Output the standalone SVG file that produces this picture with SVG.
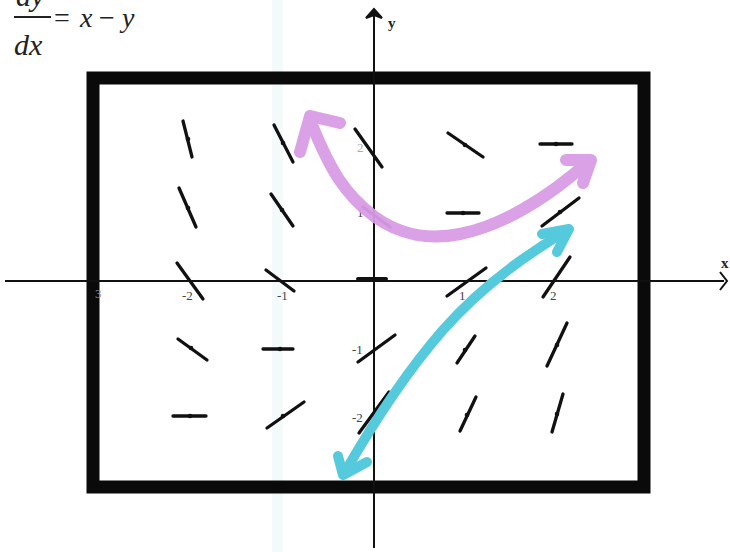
<svg xmlns="http://www.w3.org/2000/svg" width="730" height="552" viewBox="0 0 730 552">
<style>
.seg{stroke:#111;stroke-width:3.3;stroke-linecap:round;fill:none}
.dot{fill:#111}
.axis{stroke:#111;stroke-width:2;fill:none}
.lbl{font-family:"Liberation Serif",serif;font-size:13px;fill:#444}
.eq{font-family:"Liberation Serif",serif;font-style:italic;font-size:30px;fill:#222}
.eq2{font-family:"Liberation Serif",serif;font-style:italic;font-size:28px;fill:#222}
.pink{stroke:#d99ce6;stroke-width:12;fill:none;stroke-linecap:round;stroke-linejoin:round}
.cyan{stroke:#55cadc;stroke-width:10;fill:none;stroke-linecap:round;stroke-linejoin:round}
</style>
<rect width="730" height="552" fill="#fff"/>
<rect x="272" y="0" width="11" height="552" fill="#f4f9fa"/>
<g id="equation">
<text class="eq" x="16" y="6">dy</text>
<line x1="14" y1="17" x2="51" y2="17" stroke="#222" stroke-width="2"/>
<text class="eq" x="14" y="55">dx</text>
<text class="eq2" x="54" y="27" style="font-style:normal">=</text>
<text class="eq2" x="80" y="27">x</text>
<text class="eq2" x="99" y="27" style="font-style:normal">−</text>
<text class="eq2" x="122" y="27">y</text>
</g>
<g id="frame">
<rect x="93" y="78" width="551" height="409" fill="none" stroke="#0a0a0a" stroke-width="13"/>
</g>
<g id="axes">
<line class="axis" x1="374" y1="14" x2="374" y2="548"/>
<polygon points="374,9 366,18 374,15 382,18" fill="#111" stroke="#111" stroke-width="2"/>
<line class="axis" x1="5" y1="281" x2="724" y2="281"/>
<polyline points="720,272 727,281 720,290" fill="none" stroke="#111" stroke-width="2"/>
<text x="388" y="28" style="font-family:'Liberation Serif',serif;font-weight:bold;font-size:15px;fill:#222">y</text>
<text x="721" y="268" style="font-family:'Liberation Serif',serif;font-weight:bold;font-size:15px;fill:#222">x</text>
</g>
<g id="tick-labels">
<text class="lbl" x="95" y="298" style="fill:#999">3</text>
<text class="lbl" x="182" y="300">-2</text>
<text class="lbl" x="277" y="300">-1</text>
<text class="lbl" x="459" y="300">1</text>
<text class="lbl" x="550" y="300">2</text>
<text class="lbl" x="357" y="152" style="fill:#aaa">2</text>
<text class="lbl" x="357" y="217">1</text>
<text class="lbl" x="352" y="354">-1</text>
<text class="lbl" x="352" y="422">-2</text>
</g>
<g id="slope-field">
<line class="seg" x1="183" y1="121" x2="192" y2="157"/><circle class="dot" cx="188" cy="139" r="2.3"/>
<line class="seg" x1="274" y1="125" x2="293" y2="162"/><circle class="dot" cx="283" cy="143" r="2.3"/>
<line class="seg" x1="355" y1="129" x2="382" y2="167"/>
<line class="seg" x1="448" y1="133" x2="483" y2="157"/><circle class="dot" cx="465" cy="145" r="2.3"/>
<line class="seg" x1="540" y1="144" x2="572" y2="144"/><circle class="dot" cx="556" cy="144" r="2.3"/>

<line class="seg" x1="179" y1="188" x2="196" y2="227"/><circle class="dot" cx="188" cy="208" r="2.3"/>
<line class="seg" x1="271" y1="194" x2="293" y2="226"/><circle class="dot" cx="282" cy="210" r="2.3"/>
<line class="seg" x1="363" y1="207" x2="390" y2="227"/>
<line class="seg" x1="447" y1="213" x2="479" y2="213"/><circle class="dot" cx="463" cy="213" r="2.3"/>
<line class="seg" x1="542" y1="226" x2="579" y2="198"/><circle class="dot" cx="560" cy="212" r="2.3"/>

<line class="seg" x1="177" y1="263" x2="203" y2="299"/>
<line class="seg" x1="266" y1="270" x2="294" y2="291"/>
<line x1="358" y1="279" x2="386" y2="279" stroke="#111" stroke-width="4" stroke-linecap="round"/>
<line class="seg" x1="447" y1="296" x2="486" y2="268"/>
<line class="seg" x1="543" y1="297" x2="570" y2="257"/>

<line class="seg" x1="178" y1="339" x2="207" y2="360"/><circle class="dot" cx="191" cy="348" r="2.3"/>
<line class="seg" x1="263" y1="349" x2="293" y2="349"/><circle class="dot" cx="280" cy="349" r="2.3"/>
<line class="seg" x1="358" y1="362" x2="395" y2="335"/>
<line class="seg" x1="457" y1="363" x2="475" y2="336"/><circle class="dot" cx="465" cy="350" r="2.3"/>
<line class="seg" x1="547" y1="366" x2="567" y2="323"/><circle class="dot" cx="557" cy="345" r="2.3"/>

<line class="seg" x1="173" y1="416" x2="206" y2="416"/><circle class="dot" cx="190" cy="416" r="2.3"/>
<line class="seg" x1="267" y1="428" x2="304" y2="402"/><circle class="dot" cx="283" cy="416" r="2.3"/>
<line class="seg" x1="359" y1="433" x2="389" y2="392"/>
<line class="seg" x1="460" y1="431" x2="476" y2="397"/><circle class="dot" cx="467" cy="415" r="2.3"/>
<line class="seg" x1="552" y1="432" x2="563" y2="394"/><circle class="dot" cx="557" cy="414" r="2.3"/>
</g>
<g id="connectors">
<g id="solution-upper" opacity="0.95">
<path class="pink" d="M310,120 C330,170 345,195 375,217 C400,235 430,240 460,234 C500,226 545,200 588,162"/>
<polyline class="pink" points="340,123 310,116 300,152"/>
<polyline class="pink" points="566,160 591,160 583,183"/>
</g>
<g id="solution-lower">
<path class="cyan" d="M568,230 C520,258 478,290 443,330 C408,370 375,420 345,472"/>
<polyline class="cyan" points="542,234 569,229 557,252"/>
<polyline class="cyan" points="338,456 343,475 367,462"/>
</g>
</g>
</svg>
